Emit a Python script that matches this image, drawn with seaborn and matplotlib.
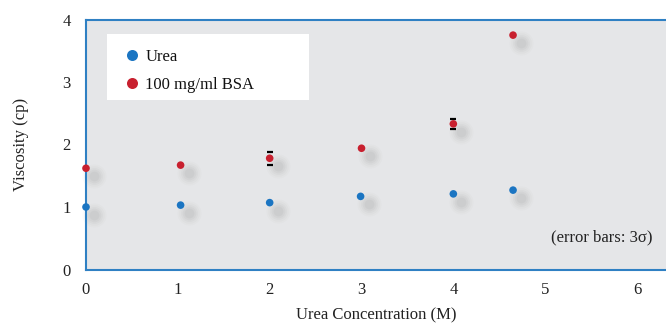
import matplotlib
matplotlib.use("Agg")
import matplotlib.pyplot as plt
import matplotlib.transforms as mtransforms
from matplotlib.patches import Rectangle
import seaborn as sns
import pandas as pd
import numpy as np

urea_x = [0.0, 1.03, 2.0, 2.99, 4.0, 4.65]
urea_y = [1.00, 1.03, 1.07, 1.17, 1.21, 1.27]
bsa_x = [0.0, 1.03, 2.0, 3.0, 4.0, 4.65]
bsa_y = [1.62, 1.67, 1.78, 1.94, 2.33, 3.75]
bsa_err = [0.0, 0.0, 0.10, 0.0, 0.08, 0.0]
series_names = ["Urea", "100 mg/ml BSA"]
colors = ["#1b75c2", "#c8202f"]
x_ticks = [0, 1, 2, 3, 4, 5, 6]
y_ticks = [0, 1, 2, 3, 4]

df = pd.DataFrame({
    "x": urea_x + bsa_x,
    "y": urea_y + bsa_y,
    "series": [series_names[0]] * len(urea_x) + [series_names[1]] * len(bsa_x),
})

sns.set_style("white")
plt.rcParams["font.family"] = ["Liberation Serif", "DejaVu Serif"]

fig = plt.figure(figsize=(6.66, 3.24), dpi=100)
ax = fig.add_axes([86 / 666, 1 - 269.5 / 324, 1 - 86 / 666 + 0.002, (269.5 - 19.5) / 324])
ax.set_facecolor("#e5e6e8")

# blurred shadows offset down-right
shadow_tr = ax.transData + mtransforms.ScaledTranslation(8 / 100, -8 / 100, fig.dpi_scale_trans)
for s, a in [(300, 0.04), (220, 0.05), (150, 0.07), (95, 0.09), (50, 0.11)]:
    ax.scatter(df["x"], df["y"], s=s, color="#9a9a9a", alpha=a, linewidths=0,
               transform=shadow_tr, zorder=1, clip_on=False)

# error bars (caps only visible)
ex = [x for x, e in zip(bsa_x, bsa_err) if e > 0]
ey = [y for y, e in zip(bsa_y, bsa_err) if e > 0]
ee = [e for e in bsa_err if e > 0]
ax.errorbar(ex, ey, yerr=ee, fmt="none", ecolor="black", elinewidth=0,
            capsize=2.5, capthick=1.6, zorder=2)

sns.scatterplot(data=df, x="x", y="y", hue="series", palette=colors, s=30,
                linewidth=0, ax=ax, zorder=3, clip_on=False)

ax.set_xlim(0, 6.33)
ax.set_ylim(0, 4)
ax.set_xticks(x_ticks)
ax.set_yticks(y_ticks)
ax.tick_params(axis="both", direction="out", length=4, width=1, color="#aaaaaa",
               labelsize=12, labelcolor="#222222")
ax.tick_params(axis="x", pad=5)
ax.tick_params(axis="y", pad=7)

for side in ["left", "bottom", "top"]:
    ax.spines[side].set_color("#2f80c3")
    ax.spines[side].set_linewidth(1.5)
ax.spines["right"].set_visible(False)

ax.set_xlabel("Urea Concentration (M)", fontsize=12, color="#222222", labelpad=7)
ax.set_ylabel("Viscosity (cp)", fontsize=12, color="#222222", labelpad=24)

# white legend box
ax.add_patch(Rectangle((21 / 580, 1 - 80.5 / 250), 201 / 580, 66 / 250,
                       transform=ax.transAxes, facecolor="white", edgecolor="none",
                       zorder=4))
leg = ax.legend(loc="upper left", bbox_to_anchor=(21 / 580, 1 - 17 / 250), frameon=False,
                fontsize=12, markerscale=1.45, handletextpad=0.05, borderpad=0.75,
                labelspacing=0.7, borderaxespad=0, handlelength=1.5)
leg.set_zorder(5)
for txt in leg.get_texts():
    txt.set_color("#111111")

ax.text(0.975, 0.13, "(error bars: 3σ)", transform=ax.transAxes, ha="right", va="center",
        fontsize=12, color="#222222")

fig.savefig("out.png", dpi=100)
